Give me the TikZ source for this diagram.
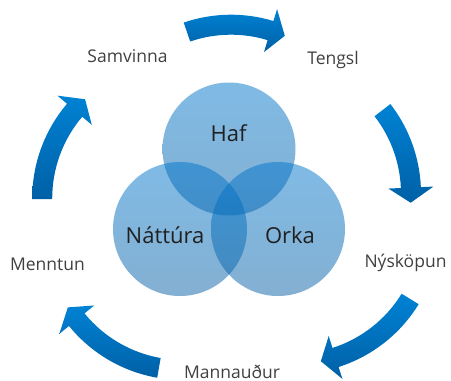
\documentclass[tikz,border=0pt]{standalone}
\usepackage{fontspec}
\setmainfont{Open Sans}
\definecolor{circtop}{RGB}{0,118,204}
\definecolor{circbot}{RGB}{8,96,165}
\definecolor{arrtop}{RGB}{0,130,212}
\definecolor{arrbot}{RGB}{0,96,166}
\definecolor{outertext}{RGB}{64,64,64}
\definecolor{innertext}{RGB}{32,32,32}
\tikzset{
  vcircle/.style={top color=circtop, bottom color=circbot, opacity=0.5},
  arrowshade/.style={top color=arrtop, bottom color=arrbot},
  outerlabel/.style={font=\fontsize{17.5}{20}\selectfont, text=outertext, inner sep=0pt, anchor=base},
  innerlabel/.style={font=\fontsize{22}{26}\selectfont, text=innertext, inner sep=0pt, anchor=base}
}
% #1 = centre of the arc, #2 = tail angle, #3 = angle of the head base
\newcommand{\cyclearrow}[3]{%
  \shade[arrowshade, shift={(#1)}]
    (#2:146) arc[start angle=#2, end angle=#3, radius=146]
    -- (#3:158.5) -- ({#3+6.4}:136) -- (#3:113.5) -- (#3:126)
    arc[start angle=#3, end angle=#2, radius=126] -- cycle;
}
\begin{document}
\begin{tikzpicture}[x=1pt, y=-1pt]
\useasboundingbox (0,0) rectangle (451,381);
% circles
\shade[vcircle] (229,149) circle[radius=66.5];
\shade[vcircle] (180,229) circle[radius=67];
\shade[vcircle] (278,229) circle[radius=67];
% arrows
\cyclearrow{231,160.7}{-108.9}{-73.1}
\cyclearrow{275,193.5}{-37.8}{-2.5}
\cyclearrow{294.2,227.9}{31.5}{72.3}
\cyclearrow{182.3,233.9}{99.9}{140.9}
\cyclearrow{178.2,198.4}{179.7}{220.4}
% inner labels
\node[innerlabel] (haf) at (228.5,141) {Haf};
\node[innerlabel] (nattura) at (165,243.5) {Náttúra};
\node[innerlabel] (orka) at (290,243.5) {Orka};
% outer labels
\node[outerlabel] (samvinna) at (127.5,62) {Samvinna};
\node[outerlabel] (tengsl) at (333,64) {Tengsl};
\node[outerlabel] (nyskopun) at (405.5,267) {Nýsköpun};
\node[outerlabel] (menntun) at (47.5,270) {Menntun};
\node[outerlabel] (mannaudur) at (232,378) {Mannauður};
\end{tikzpicture}
\end{document}
